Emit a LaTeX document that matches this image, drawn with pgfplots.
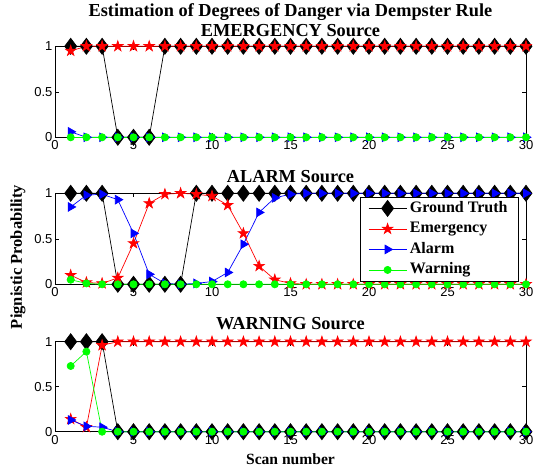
\documentclass[border=0pt]{standalone}
\usepackage{pgfplots}
\usepackage{pgfplotstable}
\pgfplotsset{compat=1.18}
\usepackage{fontspec}
\setmainfont{Liberation Serif}
\newfontfamily\ticksfont{Liberation Sans}

\pgfdeclareplotmark{pentagram}{%
  \pgfpathmoveto{\pgfqpointpolar{90}{\pgfplotmarksize}}%
  \pgfpathlineto{\pgfqpointpolar{126}{0.382\pgfplotmarksize}}%
  \pgfpathlineto{\pgfqpointpolar{162}{\pgfplotmarksize}}%
  \pgfpathlineto{\pgfqpointpolar{198}{0.382\pgfplotmarksize}}%
  \pgfpathlineto{\pgfqpointpolar{234}{\pgfplotmarksize}}%
  \pgfpathlineto{\pgfqpointpolar{270}{0.382\pgfplotmarksize}}%
  \pgfpathlineto{\pgfqpointpolar{306}{\pgfplotmarksize}}%
  \pgfpathlineto{\pgfqpointpolar{342}{0.382\pgfplotmarksize}}%
  \pgfpathlineto{\pgfqpointpolar{18}{\pgfplotmarksize}}%
  \pgfpathlineto{\pgfqpointpolar{54}{0.382\pgfplotmarksize}}%
  \pgfpathclose\pgfusepathqfillstroke}

\pgfplotstableread{
x gt em al wa
1 1 0.95 0.06 0
2 1 1 0 0
3 1 1 0 0
4 0 1 0 0
5 0 1 0 0
6 0 1 0 0
7 1 1 0 0
8 1 1 0 0
9 1 1 0 0
10 1 1 0 0
11 1 1 0 0
12 1 1 0 0
13 1 1 0 0
14 1 1 0 0
15 1 1 0 0
16 1 1 0 0
17 1 1 0 0
18 1 1 0 0
19 1 1 0 0
20 1 1 0 0
21 1 1 0 0
22 1 1 0 0
23 1 1 0 0
24 1 1 0 0
25 1 1 0 0
26 1 1 0 0
27 1 1 0 0
28 1 1 0 0
29 1 1 0 0
30 1 1 0 0
}\emergtable

\pgfplotstableread{
x gt em al wa
1 1 0.10 0.85 0.05
2 1 0.02 0.98 0.01
3 1 0.01 0.99 0
4 0 0.07 0.93 0
5 0 0.45 0.56 0
6 0 0.89 0.11 0
7 0 0.99 0.01 0
8 0 1.00 0.00 0
9 1 0.99 0.01 0
10 1 0.97 0.03 0
11 1 0.87 0.13 0
12 1 0.56 0.44 0
13 1 0.20 0.79 0
14 1 0.05 0.95 0
15 1 0.01 0.99 0
16 1 0 1 0
17 1 0 1 0
18 1 0 1 0
19 1 0 1 0
20 1 0 1 0
21 1 0 1 0
22 1 0 1 0
23 1 0 1 0
24 1 0 1 0
25 1 0 1 0
26 1 0 1 0
27 1 0 1 0
28 1 0 1 0
29 1 0 1 0
30 1 0 1 0
}\alarmtable

\pgfplotstableread{
x gt em al wa
1 1 0.14 0.13 0.73
2 1 0.05 0.06 0.89
3 1 0.96 0.05 0
4 0 1 0 0
5 0 1 0 0
6 0 1 0 0
7 0 1 0 0
8 0 1 0 0
9 0 1 0 0
10 0 1 0 0
11 0 1 0 0
12 0 1 0 0
13 0 1 0 0
14 0 1 0 0
15 0 1 0 0
16 0 1 0 0
17 0 1 0 0
18 0 1 0 0
19 0 1 0 0
20 0 1 0 0
21 0 1 0 0
22 0 1 0 0
23 0 1 0 0
24 0 1 0 0
25 0 1 0 0
26 0 1 0 0
27 0 1 0 0
28 0 1 0 0
29 0 1 0 0
30 0 1 0 0
}\warntable

\pgfplotsset{
  dsaxis/.style={
    scale only axis, width=471pt, height=91pt,
    xmin=0, xmax=30, ymin=0, ymax=1,
    xtick={0,5,...,30}, ytick={0,0.5,1},
    tick align=inside, major tick length=4pt,
    tick style={black, line width=0.5pt},
    axis line style={black, line width=0.8pt},
    /pgf/number format/assume math mode=true,
    tick label style={font=\fontsize{13}{13}\ticksfont},
    yticklabel style={xshift=1pt},
    clip=false,
    legend image code/.code={\draw[mark repeat=2,mark phase=2,##1] plot coordinates {(0pt,0pt)(19pt,0pt)(38pt,0pt)};},
  },
  gtstyle/.style={black, line width=0.7pt, mark=diamond*, mark size=8pt, mark options={fill=black, solid}},
  emstyle/.style={red, line width=0.7pt, mark=pentagram, mark size=5.5pt, mark options={fill=red, solid}},
  alstyle/.style={blue, line width=0.7pt, mark=triangle*, mark size=5pt, mark options={fill=blue, rotate=-90, solid}},
  wastyle/.style={green, line width=0.7pt, mark=*, mark size=3.6pt, mark options={fill=green, solid}},
}

\begin{document}
\begin{tikzpicture}[x=1pt,y=1pt]
\useasboundingbox (0,0) rectangle (535,468);

% top panel
\begin{axis}[dsaxis, at={(55pt,330.7pt)}, anchor=south west]
\addplot[gtstyle] table[x=x,y=gt] {\emergtable};
\addplot[emstyle] table[x=x,y=em] {\emergtable};
\addplot[alstyle] table[x=x,y=al] {\emergtable};
\addplot[wastyle] table[x=x,y=wa] {\emergtable};
\end{axis}

% middle panel
\begin{axis}[dsaxis, at={(55pt,183.7pt)}, anchor=south west,
  legend style={at={(1,1)}, anchor=north east, xshift=-7pt, yshift=-3.5pt,
    draw=black, line width=0.8pt, fill=white, inner xsep=8pt, inner ysep=1pt,
    font=\fontsize{16}{16}\selectfont\bfseries,
    nodes={inner sep=3pt, text height=11pt, text depth=3.5pt}},
  legend cell align=left]
\addplot[gtstyle] table[x=x,y=gt] {\alarmtable};
\addlegendentry{Ground Truth}
\addplot[emstyle] table[x=x,y=em] {\alarmtable};
\addlegendentry{Emergency}
\addplot[alstyle] table[x=x,y=al] {\alarmtable};
\addlegendentry{Alarm}
\addplot[wastyle] table[x=x,y=wa] {\alarmtable};
\addlegendentry{Warning}
\end{axis}

% bottom panel
\begin{axis}[dsaxis, at={(55pt,36.3pt)}, anchor=south west, height=90pt]
\addplot[gtstyle] table[x=x,y=gt] {\warntable};
\addplot[emstyle] table[x=x,y=em] {\warntable};
\addplot[alstyle] table[x=x,y=al] {\warntable};
\addplot[wastyle] table[x=x,y=wa] {\warntable};
\end{axis}

% titles and labels
\node[font=\fontsize{18.3}{18.3}\selectfont\bfseries] at (290.5,456) {Estimation of Degrees of Danger via Dempster Rule};
\node[font=\fontsize{18.3}{18.3}\selectfont\bfseries] at (290.5,437) {EMERGENCY Source};
\node[font=\fontsize{18.3}{18.3}\selectfont\bfseries] at (290.5,291) {ALARM Source};
\node[font=\fontsize{18.3}{18.3}\selectfont\bfseries] at (290.5,144) {WARNING Source};
\node[font=\fontsize{15.6}{15.6}\selectfont\bfseries] at (290.5,9) {Scan number};
\node[font=\fontsize{16.5}{16.5}\selectfont\bfseries, rotate=90] at (18,211) {Pignistic Probability};
\end{tikzpicture}
\end{document}
